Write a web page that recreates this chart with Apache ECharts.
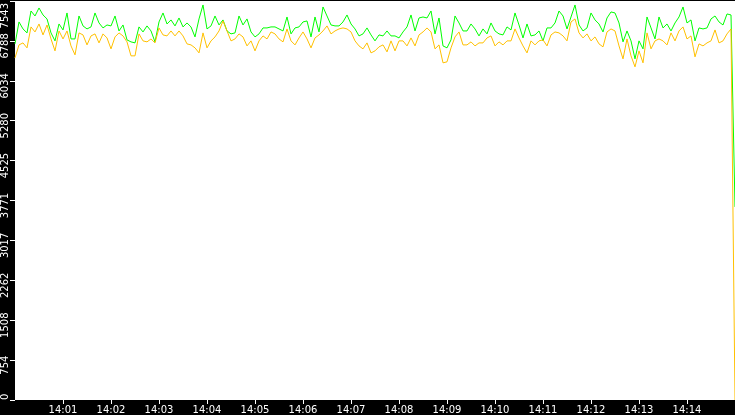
<!DOCTYPE html>
<html>
<head>
<meta charset="utf-8">
<script src="https://cdn.jsdelivr.net/npm/echarts@6/dist/echarts.min.js"></script>
<style>
  html, body { margin: 0; padding: 0; background: #000; }
  #main { width: 735px; height: 415px; }
</style>
</head>
<body>
<div id="main"></div>
<script>
// samples every 5 s from 14:00:00, last point at 14:15:00
var startTime = Date.UTC(2024, 0, 1, 14, 0, 0);
var stepMs = 5000;

var greenValues = [
  6732,7147,7015,6940,7354,7260,7411,7279,7204,6940,6789,7109,6996,7317,6826,6826,7260,7072,7015,7053,7317,7128,7034,7090,7072,7260,6977,7090,6808,6770,
  6751,7053,6958,7072,6977,6770,7147,7317,7109,7185,7072,7222,7053,7128,7053,6864,7204,7468,7015,7072,7260,7090,7185,6977,6921,6940,7260,7090,7204,6958,
  6864,6921,7034,7034,7053,7053,7015,6977,7241,6921,7034,7053,7147,7166,6864,7241,6958,7430,7260,7090,7072,7072,7147,7279,7109,7015,6883,6921,7034,6902,
  6789,6902,6883,6977,6883,6883,6845,6958,7053,7279,6977,7222,7241,7222,7354,6921,7222,6694,6657,6808,7260,7128,6977,6977,7109,7015,6883,7015,6921,7128,
  6977,6921,6902,7053,6996,7317,7090,6845,7109,6883,6902,6977,6789,7034,7034,7128,7354,7260,7015,7241,7468,7090,6977,7034,7317,7185,7109,6958,7222,7336,
  7317,7128,6770,6977,6789,6449,6789,6638,7241,7034,6826,7241,7034,7109,6977,7128,7241,7430,7128,7185,6789,7034,7015,7034,7204,7260,7147,7090,7298,7279,
  3650
];

var orangeValues = [
  6468,6713,6751,6657,7053,6958,7109,6902,7090,6826,6600,6977,6826,6977,6694,6525,6940,6902,6713,6883,6921,6751,6921,6845,6638,6864,6940,6883,6770,6506,
  6506,6921,6789,6770,6826,6751,7034,6902,6883,6977,6883,6977,6883,6732,6713,6657,6562,6940,6657,6789,6864,6977,7166,6977,6789,6826,6921,6864,6694,6789,
  6600,6789,6883,6826,6958,6921,6826,6770,7015,6789,6713,6845,6958,6826,6657,6845,6902,6977,7072,6921,6977,7015,7034,7015,6958,6789,6694,6638,6751,6562,
  6600,6676,6713,6581,6789,6600,6789,6789,6694,6845,6694,6902,6958,7034,6958,6638,6713,6374,6393,6657,6864,6958,6713,6713,6770,6694,6751,6751,6845,6883,
  6694,6770,6713,6789,6789,7015,6845,6694,6562,6789,6713,6789,6808,6694,6902,6958,6940,6883,6789,7147,7204,6940,6845,6921,6789,6864,6732,6676,6958,7015,
  6977,6694,6449,6826,6506,6298,6600,6374,6940,6638,6789,6826,6789,6713,6940,6789,6977,7053,6826,6883,6487,6732,6694,6751,6789,6996,6751,6789,6921,7015,
  0
];

var yMax = 7543;
var yStep = 754.3;

function withTime(values) {
  return values.map(function (v, i) {
    return [startTime + i * stepMs, v];
  });
}

function pad(n) { return n < 10 ? '0' + n : '' + n; }

var myChart = echarts.init(document.getElementById('main'));

var option = {
  animation: false,
  backgroundColor: '#000',
  grid: {
    left: 15,
    right: 0,
    top: 0,
    bottom: 15,
    show: true,
    backgroundColor: '#fff',
    borderWidth: 0
  },
  xAxis: {
    type: 'value',
    min: startTime,
    max: startTime + 15 * 60000,
    interval: 60000,
    splitLine: { show: false },
    axisLine: { show: false },
    axisTick: { show: true, length: 4, lineStyle: { color: '#fff', width: 1 } },
    axisLabel: {
      color: '#fff',
      fontFamily: 'DejaVu Sans',
      fontSize: 10,
      margin: 5,
      showMinLabel: false,
      showMaxLabel: false,
      formatter: function (v) {
        var d = new Date(v);
        return pad(d.getUTCHours()) + ':' + pad(d.getUTCMinutes());
      }
    }
  },
  yAxis: {
    type: 'value',
    min: 0,
    max: yMax,
    interval: yStep,
    splitLine: { show: false },
    axisLine: { show: false },
    axisTick: { show: true, length: 5, lineStyle: { color: '#fff', width: 1 } },
    axisLabel: {
      color: '#fff',
      fontFamily: 'DejaVu Sans',
      fontSize: 10,
      rotate: 90,
      margin: 5,
      alignMinLabel: 'left',
      alignMaxLabel: 'right',
      formatter: function (v) {
        var s = String(Math.floor(v + 1e-6));
        if (v > yMax - 1) return '{top|' + s + '}';
        return '{mid|' + s + '}';
      },
      rich: {
        top: { color: '#fff', fontFamily: 'DejaVu Sans', fontSize: 10, padding: [0, 2, 0, 0] },
        mid: { color: '#fff', fontFamily: 'DejaVu Sans', fontSize: 10, padding: [0, 10, 0, 0] }
      }
    }
  },
  series: [
    {
      name: 'green',
      type: 'line',
      showSymbol: false,
      silent: true,
      lineStyle: { color: '#00ff00', width: 1 },
      data: withTime(greenValues)
    },
    {
      name: 'orange',
      type: 'line',
      showSymbol: false,
      silent: true,
      lineStyle: { color: '#ffc000', width: 1 },
      data: withTime(orangeValues)
    }
  ]
};
myChart.setOption(option);
</script>
</body>
</html>
